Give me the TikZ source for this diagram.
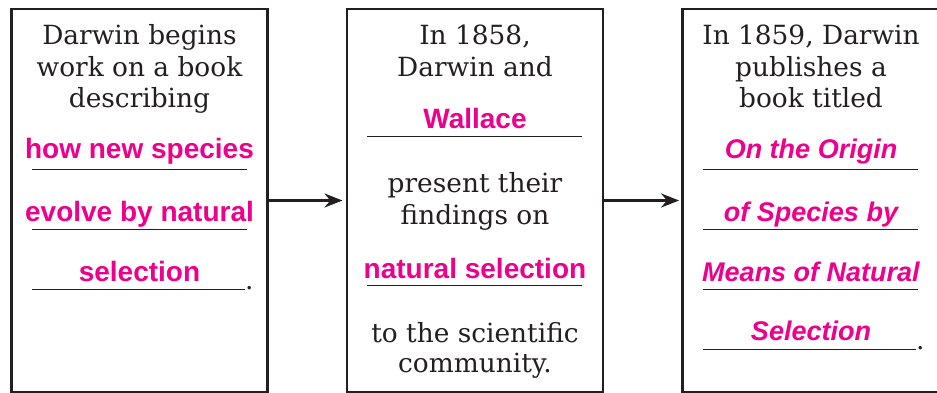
\documentclass[tikz,border=0pt]{standalone}
\usepackage{fontspec}
\setmainfont{DejaVu Serif}
\newfontfamily\hsans{Liberation Sans}
\usetikzlibrary{arrows.meta}
\definecolor{mag}{HTML}{EC008C}
\definecolor{ink}{HTML}{231F20}
\begin{document}
\begin{tikzpicture}[x=1pt,y=-1pt,
  box/.style={draw=ink,line width=2.4pt,minimum width=256pt,minimum height=383pt,inner sep=0pt},
  blk/.style={text=ink,font=\fontsize{26.4}{30}\selectfont,anchor=base,inner sep=0pt},
  ans/.style={text=mag,font=\hsans\bfseries\fontsize{28}{30}\selectfont,anchor=base,inner sep=0pt},
  ansi/.style={text=mag,font=\hsans\bfseries\itshape\fontsize{27}{30}\selectfont,anchor=base,inner sep=0pt},
  uline/.style={draw=ink,line width=1pt},
  arr/.style={draw=ink,line width=2.4pt,-{Stealth[length=18pt,width=14pt]}}]
\useasboundingbox (0,0) rectangle (937,393);
\clip (0,0) rectangle (937,393);
% boxes
\node[box] (b1) at (139.4,200.5) {};
\node[box] (b2) at (474.7,200.5) {};
\node[box] (b3) at (810.3,200.5) {};
% arrows
\draw[arr,shorten >=3pt] (b1.east) -- (b2.west);
\draw[arr,shorten >=2pt] (b2.east) -- (b3.west);
% box 1
\node[blk] (t11) at (139.5,45) {Darwin begins};
\node[blk] (t12) at (139.5,76.5) {work on a book};
\node[blk] (t13) at (139.5,108) {describing};
\node[ans] (a11) at (139.5,159) {how new species};
\draw[uline] (32,169) -- (247,169);
\node[ans] (a12) at (139.5,221) {evolve by natural};
\draw[uline] (32,229) -- (247,229);
\node[ans] (a13) at (139.5,281) {selection};
\draw[uline] (32,289) -- (245,289);
\node[blk,anchor=base west] (p1) at (245,289) {.};
% box 2
\node[blk] (t21) at (475,45) {In 1858,};
\node[blk] (t22) at (475,77) {Darwin and};
\node[ans] (a21) at (475,129) {Wallace};
\draw[uline] (367,137) -- (582,137);
\node[blk] (t23) at (475,193) {present their};
\node[blk] (t24) at (475,224) {findings on};
\node[ans] (a22) at (475,278) {natural selection};
\draw[uline] (367,285) -- (582,285);
\node[blk] (t25) at (475,342) {to the scientific};
\node[blk] (t26) at (475,372) {community.};
% box 3
\node[blk] (t31) at (811,45) {In 1859, Darwin};
\node[blk] (t32) at (811,77) {publishes a};
\node[blk] (t33) at (811,108) {book titled};
\node[ansi] (a31) at (811,159) {On the Origin};
\draw[uline] (703,169) -- (918,169);
\node[ansi] (a32) at (811,221) {of Species by};
\draw[uline] (703,229) -- (918,229);
\node[ansi] (a33) at (811,281) {Means of Natural};
\draw[uline] (703,289) -- (918,289);
\node[ansi] (a34) at (811,340) {Selection};
\draw[uline] (703,349) -- (916,349);
\node[blk,anchor=base west] (p3) at (916,349) {.};
\end{tikzpicture}
\end{document}
